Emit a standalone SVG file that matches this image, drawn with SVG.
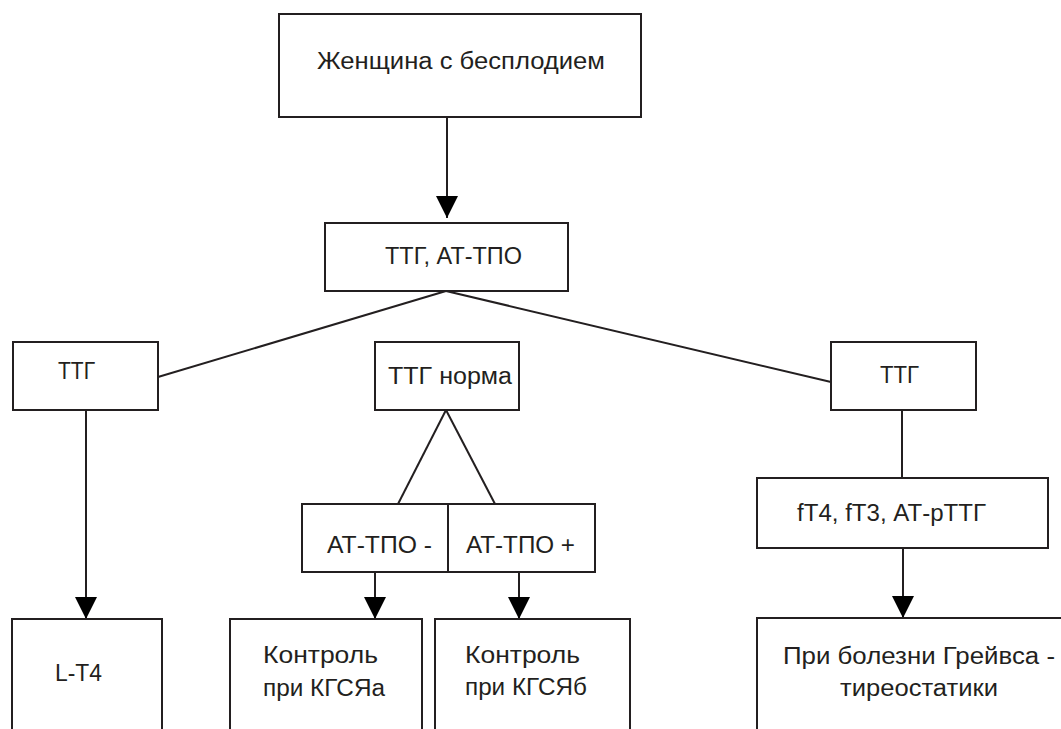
<svg xmlns="http://www.w3.org/2000/svg" width="1061" height="729" viewBox="0 0 1061 729">
<style>
.box{fill:#fff;stroke:#231f20;stroke-width:2}
.open{fill:none;stroke:#231f20;stroke-width:2}
.ln{fill:none;stroke:#231f20;stroke-width:2}
.t{font-family:"Liberation Sans",Arial,sans-serif;font-size:23px;fill:#231f20}
</style>
<defs>
<marker id="ah" markerUnits="userSpaceOnUse" markerWidth="22" markerHeight="22" viewBox="0 0 22 22" refX="22" refY="11" orient="auto">
<path d="M0,0 L22,11 L0,22 Z" fill="#000"/>
</marker>
</defs>
<g id="connectors">
<line class="ln" x1="447" y1="117" x2="447" y2="218" marker-end="url(#ah)"/>
<line class="ln" x1="446" y1="291" x2="158" y2="377"/>
<line class="ln" x1="446" y1="291" x2="831" y2="382"/>
<line class="ln" x1="86" y1="410" x2="86" y2="619" marker-end="url(#ah)"/>
<line class="ln" x1="446" y1="410" x2="398" y2="504"/>
<line class="ln" x1="446" y1="410" x2="495" y2="504"/>
<line class="ln" x1="375" y1="572" x2="375" y2="619" marker-end="url(#ah)"/>
<line class="ln" x1="519" y1="572" x2="519" y2="619" marker-end="url(#ah)"/>
<line class="ln" x1="902" y1="410" x2="902" y2="478"/>
<line class="ln" x1="903" y1="548" x2="903" y2="618" marker-end="url(#ah)"/>
</g>
<g id="n-start">
<rect class="box" x="279" y="14" width="362" height="103"/>
<text class="t" x="317" y="69" textLength="288" lengthAdjust="spacingAndGlyphs">Женщина с бесплодием</text>
</g>
<g id="n-tests">
<rect class="box" x="325" y="223" width="243" height="68"/>
<text class="t" x="385" y="264" textLength="137" lengthAdjust="spacingAndGlyphs">ТТГ, АТ-ТПО</text>
</g>
<g id="n-ttg-left">
<rect class="box" x="13" y="342" width="145" height="68"/>
<text class="t" x="58" y="379" textLength="37" lengthAdjust="spacingAndGlyphs">ТТГ</text>
</g>
<g id="n-ttg-norm">
<rect class="box" x="375" y="342" width="144" height="68"/>
<text class="t" x="388" y="384" textLength="124" lengthAdjust="spacingAndGlyphs">ТТГ норма</text>
</g>
<g id="n-ttg-right">
<rect class="box" x="831" y="342" width="145" height="68"/>
<text class="t" x="880" y="383" textLength="39" lengthAdjust="spacingAndGlyphs">ТТГ</text>
</g>
<g id="n-atpo-neg">
<rect class="box" x="302" y="504" width="146" height="68"/>
<text class="t" x="327" y="553" textLength="105" lengthAdjust="spacingAndGlyphs">АТ-ТПО -</text>
</g>
<g id="n-atpo-pos">
<rect class="box" x="448" y="504" width="147" height="68"/>
<text class="t" x="466" y="553" textLength="109" lengthAdjust="spacingAndGlyphs">АТ-ТПО +</text>
</g>
<g id="n-ft4">
<rect class="box" x="757" y="478" width="291" height="70"/>
<text class="t" x="797" y="521" textLength="189" lengthAdjust="spacingAndGlyphs">fT4, fT3, АТ-рТТГ</text>
</g>
<g id="n-lt4">
<path class="open" d="M12,729 V619 H162 V729"/>
<text class="t" x="55" y="681" textLength="47" lengthAdjust="spacingAndGlyphs">L-T4</text>
</g>
<g id="n-ctrl-a">
<path class="open" d="M230,729 V619 H422 V729"/>
<text class="t" x="263" y="663" textLength="115" lengthAdjust="spacingAndGlyphs">Контроль</text>
<text class="t" x="263" y="696" textLength="122" lengthAdjust="spacingAndGlyphs">при КГСЯа</text>
</g>
<g id="n-ctrl-b">
<path class="open" d="M435,729 V619 H630 V729"/>
<text class="t" x="465" y="663" textLength="115" lengthAdjust="spacingAndGlyphs">Контроль</text>
<text class="t" x="465" y="695" textLength="122" lengthAdjust="spacingAndGlyphs">при КГСЯб</text>
</g>
<g id="n-graves">
<path class="open" d="M757,729 V618 H1070"/>
<text class="t" x="783" y="664" textLength="272" lengthAdjust="spacingAndGlyphs">При болезни Грейвса -</text>
<text class="t" x="840" y="696" textLength="158" lengthAdjust="spacingAndGlyphs">тиреостатики</text>
</g>
</svg>
